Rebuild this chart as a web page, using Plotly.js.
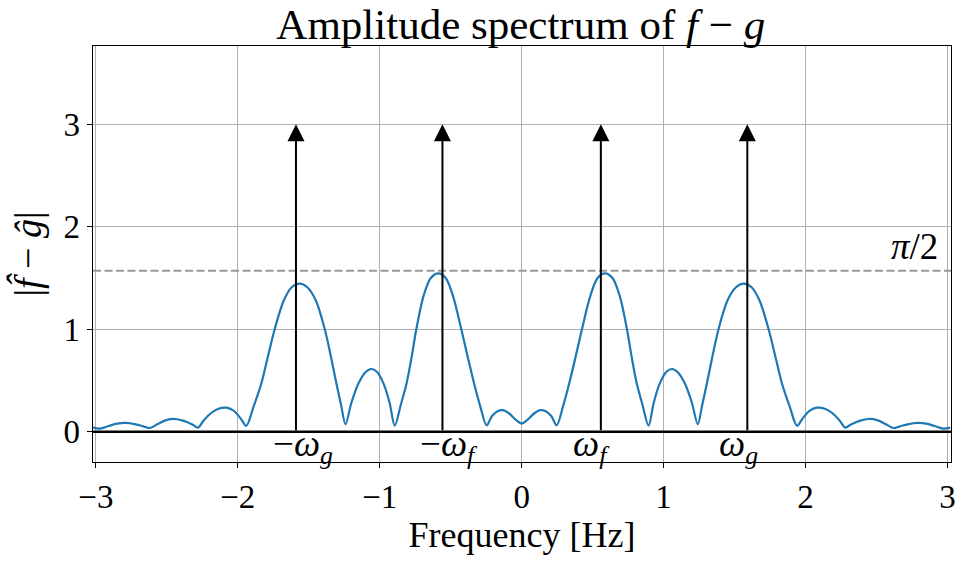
<!DOCTYPE html>
<html>
<head>
<meta charset="utf-8">
<script src="https://cdn.plot.ly/plotly-3.0.1.min.js"></script>
<style>html,body{margin:0;padding:0;background:#fff;}#chart{width:958px;height:561px;}</style>
</head>
<body>
<div id="chart"></div>
<script>
// Frequency grid (Hz) and amplitude |f^ - g^|
const freq = [-3.02,-2.97,-2.91,-2.85,-2.79,-2.72,-2.66,-2.62,-2.57,-2.51,-2.445,-2.38,-2.32,-2.28,-2.24,-2.19,-2.14,-2.08,-2.03,-1.98,-1.94,
  -1.89,-1.834,-1.79,-1.74,-1.676,-1.62,-1.564,-1.51,-1.45,-1.387,-1.345,-1.305,-1.272,-1.241,
  -1.20,-1.15,-1.10,-1.06,-1.02,-0.97,-0.93,-0.894,
  -0.85,-0.811,-0.775,-0.742,-0.69,-0.64,-0.587,-0.535,-0.485,-0.425,-0.38,-0.335,-0.29,-0.247,
  -0.21,-0.17,-0.13,-0.09,-0.04,0,
  0.04,0.09,0.13,0.17,0.21,
  0.247,0.29,0.335,0.38,0.425,0.485,0.535,0.587,0.64,0.69,0.742,0.775,0.811,0.85,
  0.894,0.93,0.97,1.02,1.06,1.10,1.15,1.20,
  1.241,1.272,1.305,1.345,1.387,1.45,1.51,1.564,1.62,1.676,1.74,1.79,1.834,1.89,
  1.94,1.98,2.03,2.08,2.14,2.19,2.24,2.28,2.32,2.38,2.445,2.51,2.57,2.62,2.66,2.72,2.79,2.85,2.91,2.97,3.02];
const amp = [0.04,0.03,0.055,0.078,0.085,0.072,0.05,0.036,0.07,0.11,0.124,0.105,0.07,0.04,0.11,0.18,0.222,0.234,0.205,0.13,0.058,
  0.24,0.47,0.72,1.0,1.28,1.41,1.446,1.41,1.28,1.0,0.74,0.47,0.26,0.072,
  0.28,0.47,0.58,0.612,0.585,0.46,0.28,0.06,
  0.27,0.47,0.73,1.0,1.33,1.5,1.545,1.5,1.33,1.0,0.73,0.47,0.24,0.062,
  0.15,0.2,0.21,0.18,0.115,0.08,
  0.115,0.18,0.21,0.2,0.15,
  0.062,0.24,0.47,0.73,1.0,1.33,1.5,1.545,1.5,1.33,1.0,0.73,0.47,0.27,
  0.06,0.28,0.46,0.585,0.612,0.58,0.47,0.28,
  0.072,0.26,0.47,0.74,1.0,1.28,1.41,1.446,1.41,1.28,1.0,0.72,0.47,0.24,
  0.058,0.13,0.205,0.234,0.222,0.18,0.11,0.04,0.07,0.105,0.124,0.11,0.07,0.036,0.05,0.072,0.085,0.078,0.055,0.03,0.04];

// Dirac impulses (arrows) at the signal frequencies
const impulsePos = [-1.59, -0.558, 0.558, 1.59];
const impulseHeight = 3;
const impulseLabels = ['−<i>ω</i><sub><i>g</i></sub>', '−<i>ω</i><sub><i>f</i></sub>', '<i>ω</i><sub><i>f</i></sub>', '<i>ω</i><sub><i>g</i></sub>'];

const refLevel = Math.PI / 2;
const refLabel = '<i>π</i>/2';

const xTicks = [-3, -2, -1, 0, 1, 2, 3];
const xTickText = ['−3', '−2', '−1', '0', '1', '2', '3'];
const yTicks = [0, 1, 2, 3];
const yTickText = ['0', '1', '2', '3'];

const FONT = 'Liberation Serif, Times New Roman, serif';

const traces = [{
  x: freq, y: amp, mode: 'lines', type: 'scatter',
  line: {color: '#1f77b4', width: 2.2, shape: 'spline', smoothing: 0.9},
  hoverinfo: 'skip', showlegend: false
}];

const annotations = [];
impulsePos.forEach((p, i) => {
  annotations.push({
    x: p, y: impulseHeight, ax: p, ay: 0,
    xref: 'x', yref: 'y', axref: 'x', ayref: 'y',
    showarrow: true, arrowhead: 2, arrowsize: 1.7, arrowwidth: 2, arrowcolor: '#000', text: ''
  });
  annotations.push({
    x: p, y: 0, xref: 'x', yref: 'y', showarrow: false,
    text: impulseLabels[i], xanchor: 'center', yanchor: 'top',
    xshift: p < 0 ? 7 : -9, yshift: 11,
    font: {family: FONT, size: 37, color: '#000'}
  });
});
annotations.push({
  x: 1, xref: 'paper', y: refLevel, yref: 'y', showarrow: false,
  text: refLabel, xanchor: 'right', yanchor: 'bottom', xshift: -11, yshift: 2,
  font: {family: FONT, size: 37, color: '#000'}
});

const layout = {
  width: 958, height: 561,
  margin: {l: 93, r: 7, t: 46, b: 99, pad: 0},
  paper_bgcolor: '#fff', plot_bgcolor: '#fff',
  title: {text: 'Amplitude spectrum of <i>f</i> − <i>g</i>', x: 0.5436, xanchor: 'center', y: 0.958, yanchor: 'middle', yref: 'container',
          font: {family: FONT, size: 43, color: '#000'}},
  xaxis: {
    range: [-3.02, 3.025], tickvals: xTicks, ticktext: xTickText,
    showgrid: true, gridcolor: '#b0b0b0', gridwidth: 1, zeroline: false,
    showline: true, mirror: true, linecolor: '#000', linewidth: 1.3,
    ticks: 'outside', ticklen: 5, tickwidth: 1.2, tickcolor: '#000',
    tickfont: {family: FONT, size: 33, color: '#000'},
    title: {text: 'Frequency [Hz]', font: {family: FONT, size: 36, color: '#000'}, standoff: 8}
  },
  yaxis: {
    range: [-0.296, 3.765], tickvals: yTicks, ticktext: yTickText,
    showgrid: true, gridcolor: '#b0b0b0', gridwidth: 1, zeroline: false,
    showline: true, mirror: true, linecolor: '#000', linewidth: 1.3,
    ticks: 'outside', ticklen: 5, tickwidth: 1.2, tickcolor: '#000',
    tickfont: {family: FONT, size: 33, color: '#000'},
    title: {text: '|<i>f\u0302</i> − <i>ĝ</i>|', font: {family: FONT, size: 38, color: '#000'}, standoff: 10}
  },
  shapes: [
    {type: 'line', xref: 'paper', x0: 0, x1: 1, yref: 'y', y0: refLevel, y1: refLevel,
     line: {color: '#999999', width: 2, dash: '8px,3.5px'}, layer: 'above'},
    {type: 'line', xref: 'paper', x0: 0, x1: 1, yref: 'y', y0: 0, y1: 0,
     line: {color: '#000', width: 2.5}, layer: 'above'}
  ],
  annotations: annotations,
  showlegend: false
};

Plotly.newPlot('chart', traces, layout, {displayModeBar: false, staticPlot: true});
</script>
</body>
</html>
